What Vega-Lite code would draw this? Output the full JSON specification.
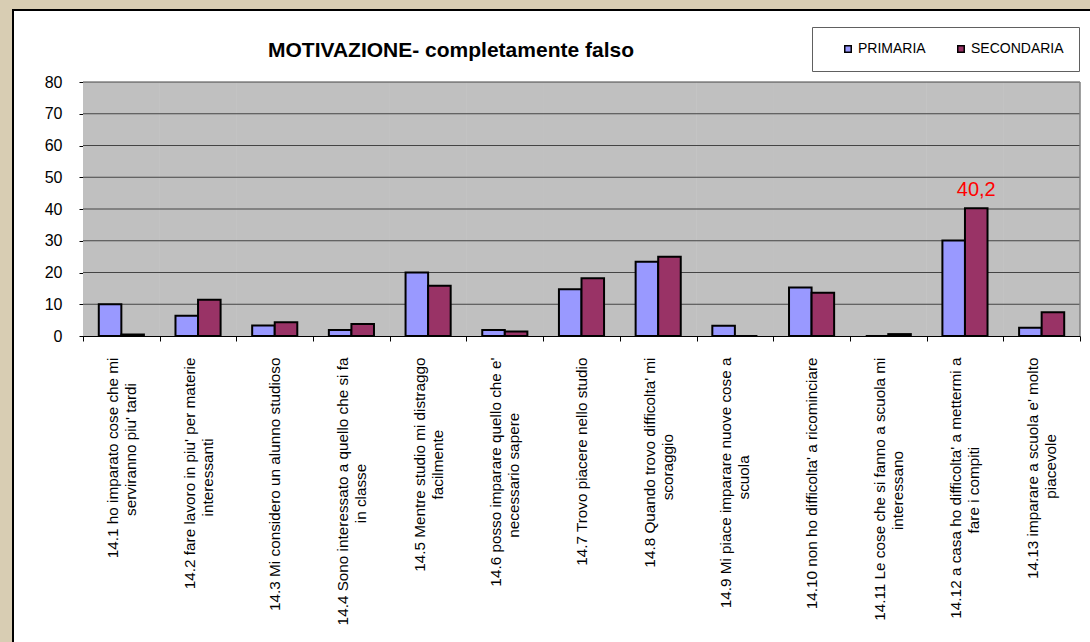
{
  "$schema": "https://vega.github.io/schema/vega-lite/v6.json",
  "width": 1080,
  "height": 635,
  "autosize": {"type": "none"},
  "padding": {"left": 13, "top": 10, "right": 0, "bottom": 0},
  "background": "#D8CDB3",
  "config": {
    "font": "Liberation Sans",
    "view": {"fill": "white", "stroke": "black", "strokeWidth": 2},
    "locale": {"number": {"decimal": ",", "thousands": ".", "grouping": [3], "currency": ["", " €"]}}
  },
  "title": {
    "text": "MOTIVAZIONE- completamente falso",
    "anchor": "middle",
    "frame": "group",
    "fontSize": 21,
    "fontWeight": "bold",
    "color": "black",
    "offset": 0,
    "baseline": "alphabetic",
    "dx": -102,
    "dy": 68
  },
  "datasets": {
    "barre": [
      {"domanda": "14.1 ho imparato cose che mi\nserviranno piu' tardi", "serie": "PRIMARIA", "valore": 10.0},
      {"domanda": "14.1 ho imparato cose che mi\nserviranno piu' tardi", "serie": "SECONDARIA", "valore": 0.5},
      {"domanda": "14.2 fare lavoro in piu' per materie\ninteressanti", "serie": "PRIMARIA", "valore": 6.4},
      {"domanda": "14.2 fare lavoro in piu' per materie\ninteressanti", "serie": "SECONDARIA", "valore": 11.4},
      {"domanda": "14.3 Mi considero un alunno studioso", "serie": "PRIMARIA", "valore": 3.3},
      {"domanda": "14.3 Mi considero un alunno studioso", "serie": "SECONDARIA", "valore": 4.3},
      {"domanda": "14.4 Sono interessato a quello che si fa\nin classe", "serie": "PRIMARIA", "valore": 1.9},
      {"domanda": "14.4 Sono interessato a quello che si fa\nin classe", "serie": "SECONDARIA", "valore": 3.8},
      {"domanda": "14.5 Mentre studio mi distraggo\nfacilmente", "serie": "PRIMARIA", "valore": 20.0},
      {"domanda": "14.5 Mentre studio mi distraggo\nfacilmente", "serie": "SECONDARIA", "valore": 15.8},
      {"domanda": "14.6 posso imparare quello che e'\nnecessario sapere", "serie": "PRIMARIA", "valore": 1.9},
      {"domanda": "14.6 posso imparare quello che e'\nnecessario sapere", "serie": "SECONDARIA", "valore": 1.4},
      {"domanda": "14.7 Trovo piacere nello studio", "serie": "PRIMARIA", "valore": 14.7},
      {"domanda": "14.7 Trovo piacere nello studio", "serie": "SECONDARIA", "valore": 18.2},
      {"domanda": "14.8 Quando trovo difficolta' mi\nscoraggio", "serie": "PRIMARIA", "valore": 23.4},
      {"domanda": "14.8 Quando trovo difficolta' mi\nscoraggio", "serie": "SECONDARIA", "valore": 25.0},
      {"domanda": "14.9 Mi piace imparare nuove cose a\nscuola", "serie": "PRIMARIA", "valore": 3.2},
      {"domanda": "14.9 Mi piace imparare nuove cose a\nscuola", "serie": "SECONDARIA", "valore": 0},
      {"domanda": "14.10 non ho difficolta' a ricominciare", "serie": "PRIMARIA", "valore": 15.3},
      {"domanda": "14.10 non ho difficolta' a ricominciare", "serie": "SECONDARIA", "valore": 13.6},
      {"domanda": "14.11 Le cose che si fanno a scuola mi\ninteressano", "serie": "PRIMARIA", "valore": 0},
      {"domanda": "14.11 Le cose che si fanno a scuola mi\ninteressano", "serie": "SECONDARIA", "valore": 0.6},
      {"domanda": "14.12 a casa ho difficolta' a mettermi a\nfare i compiti", "serie": "PRIMARIA", "valore": 30.1},
      {"domanda": "14.12 a casa ho difficolta' a mettermi a\nfare i compiti", "serie": "SECONDARIA", "valore": 40.2},
      {"domanda": "14.13 imparare a scuola e' molto\npiacevole", "serie": "PRIMARIA", "valore": 2.6},
      {"domanda": "14.13 imparare a scuola e' molto\npiacevole", "serie": "SECONDARIA", "valore": 7.5}
    ],
    "griglia": [
      {"g": 10}, {"g": 20}, {"g": 30}, {"g": 40}, {"g": 50}, {"g": 60}, {"g": 70}, {"g": 80}
    ],
    "bordo": [{"top": 80}]
  },
  "data": {"name": "barre"},
  "encoding": {
    "x": {
      "field": "domanda",
      "type": "nominal",
      "sort": null,
      "scale": {
        "type": "band",
        "domain": [
          "14.1 ho imparato cose che mi\nserviranno piu' tardi",
          "14.2 fare lavoro in piu' per materie\ninteressanti",
          "14.3 Mi considero un alunno studioso",
          "14.4 Sono interessato a quello che si fa\nin classe",
          "14.5 Mentre studio mi distraggo\nfacilmente",
          "14.6 posso imparare quello che e'\nnecessario sapere",
          "14.7 Trovo piacere nello studio",
          "14.8 Quando trovo difficolta' mi\nscoraggio",
          "14.9 Mi piace imparare nuove cose a\nscuola",
          "14.10 non ho difficolta' a ricominciare",
          "14.11 Le cose che si fanno a scuola mi\ninteressano",
          "14.12 a casa ho difficolta' a mettermi a\nfare i compiti",
          "14.13 imparare a scuola e' molto\npiacevole"
        ],
        "range": [70, 1067],
        "paddingInner": 0,
        "paddingOuter": 0
      },
      "axis": {
        "title": null,
        "orient": "bottom",
        "offset": -309,
        "grid": false,
        "tickBand": "extent",
        "ticks": true,
        "tickSize": 5,
        "tickColor": "black",
        "domainColor": "black",
        "labelAngle": -90,
        "labelAlign": "right",
        "labelBaseline": "middle",
        "labelFontSize": 15.3,
        "labelColor": "black",
        "labelLineHeight": 9,
        "labelPadding": 16,
        "labelLimit": 400,
        "labelOverlap": false,
        "labelOffset": -9,
        "labelExpr": "length(split(datum.value, '\\n')) > 1 ? [split(datum.value, '\\n')[0], '\u200b\u00a0\u200b', pad(split(datum.value, '\\n')[1], length(split(datum.value, '\\n')[1]) + round(0.8 * (length(split(datum.value, '\\n')[0]) - length(split(datum.value, '\\n')[1]))), '\u00a0') + '\u200b'] : ['\u200b\u00a0\u200b', datum.value]"
      }
    }
  },
  "layer": [
    {
      "mark": {"type": "rect", "fill": "#C0C0C0"},
      "encoding": {
        "y": {
          "datum": 80,
          "type": "quantitative",
          "title": null,
          "scale": {"domain": [0, 80], "range": [326, 72], "nice": false, "zero": true},
          "axis": {
            "title": null,
            "orient": "left",
            "offset": -70,
            "values": [0, 10, 20, 30, 40, 50, 60, 70, 80],
            "grid": false,
            "tickSize": 4,
            "tickColor": "black",
            "domainColor": "black",
            "labelFontSize": 16,
            "labelColor": "black",
            "labelPadding": 17
          }
        },
        "y2": {"datum": 0}
      }
    },
    {
      "data": {"name": "griglia"},
      "mark": {"type": "rule", "color": "#444444", "strokeWidth": 1},
      "encoding": {
        "x": {"datum": "14.1 ho imparato cose che mi\nserviranno piu' tardi", "type": "nominal", "bandPosition": 0},
        "x2": {"datum": "14.13 imparare a scuola e' molto\npiacevole", "bandPosition": 1},
        "y": {"field": "g", "type": "quantitative", "title": null}
      }
    },
    {
      "data": {"name": "bordo"},
      "mark": {"type": "rule", "color": "#808080", "strokeWidth": 1.5},
      "encoding": {
        "x": {"datum": "14.13 imparare a scuola e' molto\npiacevole", "type": "nominal", "bandPosition": 1},
        "y": {"field": "top", "type": "quantitative", "title": null},
        "y2": {"datum": 0}
      }
    },
    {
      "mark": {"type": "bar", "stroke": "black", "strokeWidth": 2},
      "encoding": {
        "xOffset": {
          "field": "serie",
          "type": "nominal",
          "scale": {"domain": ["PRIMARIA", "SECONDARIA"], "paddingOuter": 0.7, "paddingInner": 0}
        },
        "y": {"field": "valore", "type": "quantitative", "title": null},
        "color": {
          "field": "serie",
          "type": "nominal",
          "scale": {"domain": ["PRIMARIA", "SECONDARIA"], "range": ["#9999FF", "#993366"]},
          "legend": {
            "title": null,
            "orient": "none",
            "legendX": 799,
            "legendY": 17,
            "direction": "horizontal",
            "fillColor": "white",
            "strokeColor": "#606060",
            "padding": 15,
            "symbolType": "square",
            "symbolSize": 42,
            "symbolStrokeColor": "black",
            "symbolStrokeWidth": 1.5,
            "symbolOffset": 14,
            "labelFontSize": 14,
            "labelColor": "black",
            "labelOffset": 3,
            "columnPadding": 14
          }
        }
      }
    },
    {
      "transform": [{"filter": "datum.valore > 40"}],
      "mark": {"type": "text", "color": "#FF0000", "fontSize": 20, "baseline": "alphabetic", "dy": -12},
      "encoding": {
        "xOffset": {"field": "serie", "type": "nominal"},
        "y": {"field": "valore", "type": "quantitative", "title": null},
        "text": {"field": "valore", "type": "quantitative", "format": ".1f"}
      }
    }
  ]
}
